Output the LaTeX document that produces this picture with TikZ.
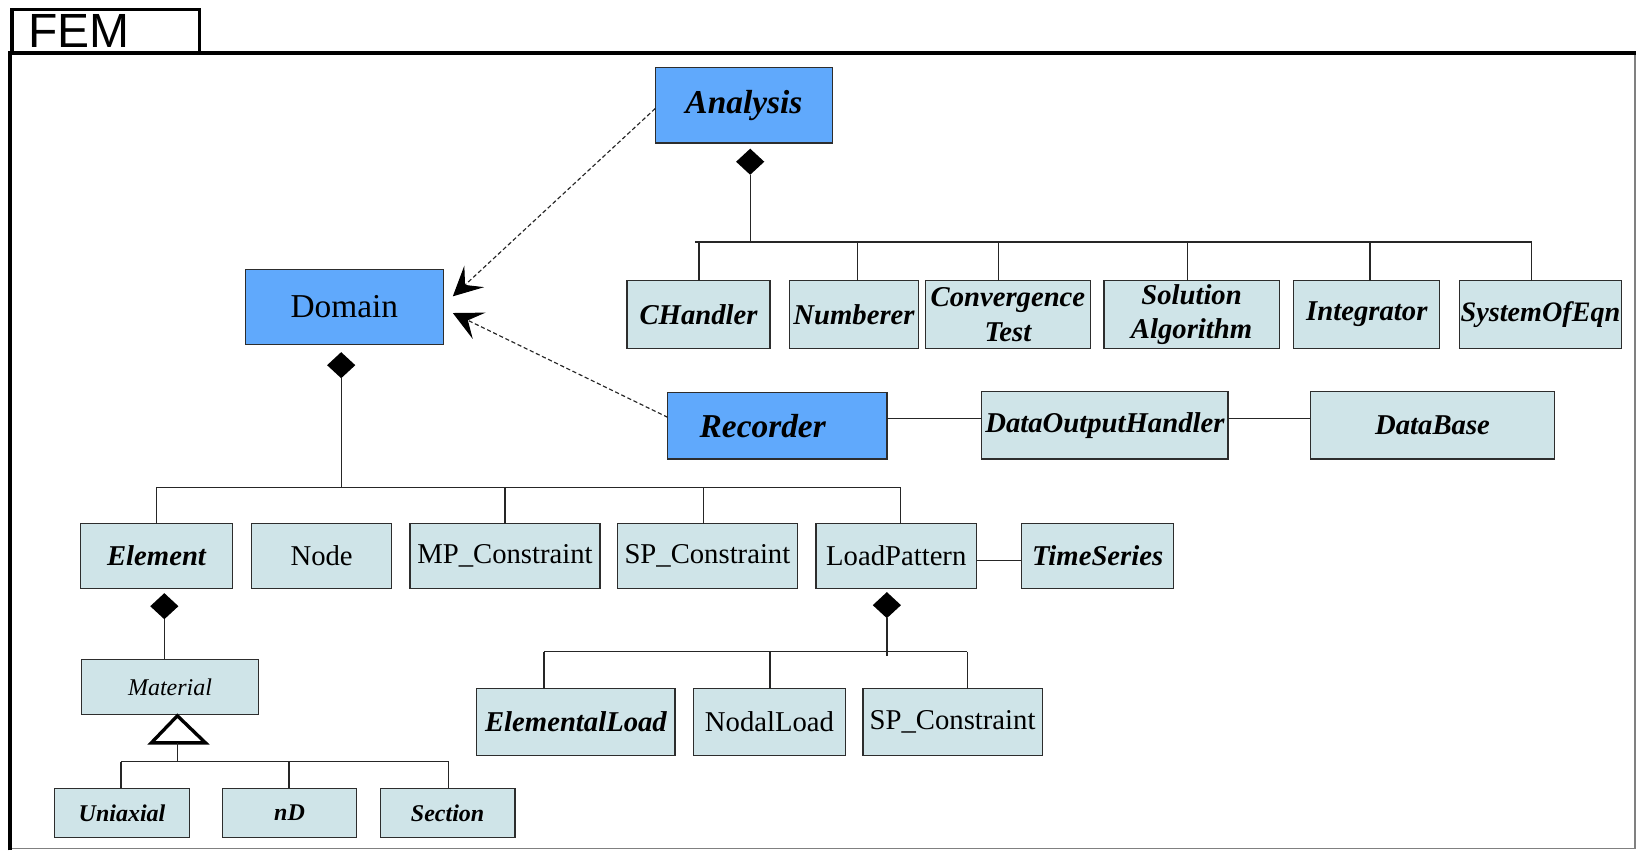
\documentclass[tikz,border=0pt]{standalone}
\usepackage{fontspec}
\setmainfont{Liberation Serif}
\newfontfamily\femfont{Liberation Sans}
\usetikzlibrary{arrows.meta,shapes.geometric}
\definecolor{blueA}{RGB}{96,169,252}
\definecolor{lightA}{RGB}{207,228,232}
\definecolor{edgeC}{RGB}{45,45,45}
\tikzset{
  box/.style={draw=edgeC, line width=1.2pt, inner sep=0pt, outer sep=0pt, align=center},
  bluebox/.style={box, fill=blueA},
  lbox/.style={box, fill=lightA},
  fbig/.style={font=\fontsize{32}{38}\selectfont},
  fmid/.style={font=\fontsize{27.5}{33}\selectfont},
  fsmall/.style={font=\fontsize{23}{28}\selectfont},
  conn/.style={line width=1.3pt, draw=black!85},
  dep/.style={line width=1.1pt, draw=black!85, dash pattern=on 4pt off 2.5pt, -{Stealth[length=28pt,width=28pt,inset=12pt,line width=1pt,color=black]}},
  comp/.style={diamond, fill=black, draw=none, inner sep=0pt, outer sep=0pt, minimum width=27pt, minimum height=25pt},
}
\newcommand{\bi}{\bfseries\itshape}
\begin{document}
\begin{tikzpicture}[x=1pt, y=-1pt]
\useasboundingbox (0,0) rectangle (1568,815);
% frame
\draw[line width=1pt, draw=black!50] (1567,50.5) -- (1567,813.5) -- (10,813.5);
\draw[line width=3.8pt] (10,815) -- (10,50.5) -- (1568,50.5);
\draw[line width=3pt] (11.5,50) -- (11.5,9) -- (191.5,9) -- (191.5,50);
\node[inner sep=0pt, font=\femfont\fontsize{46}{50}\selectfont] (fem) at (75.5,30) {FEM};

% main classes
\node[bluebox, fbig, minimum width=170, minimum height=72] (an) at (713,101) {\bi Analysis};
\node[bluebox, fbig, minimum width=190, minimum height=72] (dom) at (330,294) {Domain};
\node[bluebox, fbig, minimum width=210, minimum height=64] (rec) at (745,408) {\hspace*{-28pt}\bi Recorder};

% analysis children
\node[lbox, fmid, minimum width=137, minimum height=65] (ch) at (669.5,301.5) {\bi CHandler};
\node[lbox, fmid, minimum width=123, minimum height=65] (num) at (818.5,301.5) {\bi Numberer};
\node[lbox, fmid, minimum width=158, minimum height=65] (conv) at (966,301.5) {\bi Convergence\\\bi Test};
\node[lbox, fmid, minimum width=168, minimum height=65] (sol) at (1142,301.5) {\bi Solution\\\bi Algorithm};
\node[lbox, fmid, minimum width=140, minimum height=65] (int) at (1310,301.5) {\bi Integrator};
\node[lbox, font=\fontsize{27}{32}\selectfont, minimum width=155, minimum height=65] (soe) at (1476.5,301.5) {\bi SystemOfEqn};

% recorder row
\node[lbox, fmid, minimum width=236, minimum height=65] (doh) at (1059,407.5) {\bi DataOutputHandler};
\node[lbox, fmid, minimum width=234, minimum height=65] (db) at (1373,407.5) {\bi DataBase};

% domain children
\node[lbox, fmid, minimum width=145, minimum height=62] (el) at (150,533) {\bi Element};
\node[lbox, fmid, minimum width=134.5, minimum height=62] (nd) at (308.25,533) {Node};
\node[lbox, fmid, minimum width=182, minimum height=62] (mp) at (484,533) {MP\_Constraint};
\node[lbox, fmid, minimum width=172, minimum height=62] (sp) at (678,533) {SP\_Constraint};
\node[lbox, fmid, minimum width=154, minimum height=62] (lp) at (859,533) {LoadPattern};
\node[lbox, fmid, minimum width=146, minimum height=62] (ts) at (1052,533) {\bi TimeSeries};

% load pattern children
\node[lbox, fmid, minimum width=190, minimum height=64] (ell) at (552,692) {\bi ElementalLoad};
\node[lbox, fmid, minimum width=145, minimum height=64] (nl) at (737.5,692) {NodalLoad};
\node[lbox, fmid, minimum width=172, minimum height=64] (sp2) at (913,692) {SP\_Constraint};

% material
\node[lbox, fsmall, minimum width=170, minimum height=53] (mat) at (163,658.5) {\itshape Material};
\node[lbox, fsmall, minimum width=129, minimum height=47.5] (uni) at (117,779.25) {\bi Uniaxial};
\node[lbox, fsmall, minimum width=129, minimum height=47.5] (nd2) at (277.5,779.25) {\bi nD};
\node[lbox, fsmall, minimum width=129, minimum height=47.5] (sec) at (429,779.25) {\bi Section};

% composition diamonds
\node[comp] (adia) at (719,155) {};
\node[comp] (ddia) at (327,350) {};
\node[comp] (edia) at (157.5,581) {};
\node[comp] (ldia) at (850,580) {};

% analysis bus
\coordinate (aL) at (666,232);
\coordinate (aR) at (1468,232);
\coordinate (aC) at (719,232);
\draw[conn] (adia.south) -- (aC);
\draw[conn] (aL) -- (aR);
\foreach \x/\n in {670/ch,822/num,957/conv,1138/sol,1313/int,1468/soe}{
  \coordinate (t\n) at (\x,232);
  \draw[conn] (t\n) -- (t\n |- \n.north);
}

% domain bus
\coordinate (dL) at (150,467);
\coordinate (dR) at (863,467);
\coordinate (dC) at (327,467);
\draw[conn] (ddia.south) -- (dC);
\draw[conn] (dL) -- (dR);
\foreach \x/\n in {150/el,484/mp,674/sp,863/lp}{
  \coordinate (t\n) at (\x,467);
  \draw[conn] (t\n) -- (t\n |- \n.north);
}

% load pattern bus
\coordinate (lL) at (521.5,624.5);
\coordinate (lR) at (927,624.5);
\coordinate (lC) at (850,629);
\draw[conn] (ldia.south) -- (lC);
\draw[conn] (lL) -- (lR);
\foreach \x/\n in {521.5/ell,738/nl,927/sp2}{
  \coordinate (t\n) at (\x,624.5);
  \draw[conn] (t\n) -- (t\n |- \n.north);
}

% element - material
\draw[conn] (edia.south) -- (edia.south |- mat.north);

% inheritance triangle
\coordinate (triA) at (170,686);
\coordinate (triL) at (145,712);
\coordinate (triR) at (197,712);
\coordinate (triB) at (170,712);
\draw[line width=3.2pt, fill=white, line join=miter] (triA) -- (triL) -- (triR) -- cycle;
\coordinate (mL) at (116,730);
\coordinate (mR) at (430,730);
\coordinate (mC) at (170,730);
\draw[conn] (triB) -- (mC);
\draw[conn] (mL) -- (mR);
\foreach \x/\n in {116/uni,277/nd2,430/sec}{
  \coordinate (t\n) at (\x,730);
  \draw[conn] (t\n) -- (t\n |- \n.north);
}

% associations
\draw[conn] ([yshift=-4pt]lp.east) -- ([yshift=-4pt]ts.west);
\draw[conn] ([yshift=7pt]rec.east) -- ([yshift=6.5pt]doh.west);
\draw[conn] ([yshift=6.5pt]doh.east) -- ([yshift=6.5pt]db.west);

% dependencies
\draw[dep] ([yshift=-3pt]an.west) -- ([xshift=9pt,yshift=10pt]dom.east);
\draw[dep] ([yshift=8pt]rec.west) -- ([xshift=9pt,yshift=-6pt]dom.east);
\end{tikzpicture}
\end{document}
